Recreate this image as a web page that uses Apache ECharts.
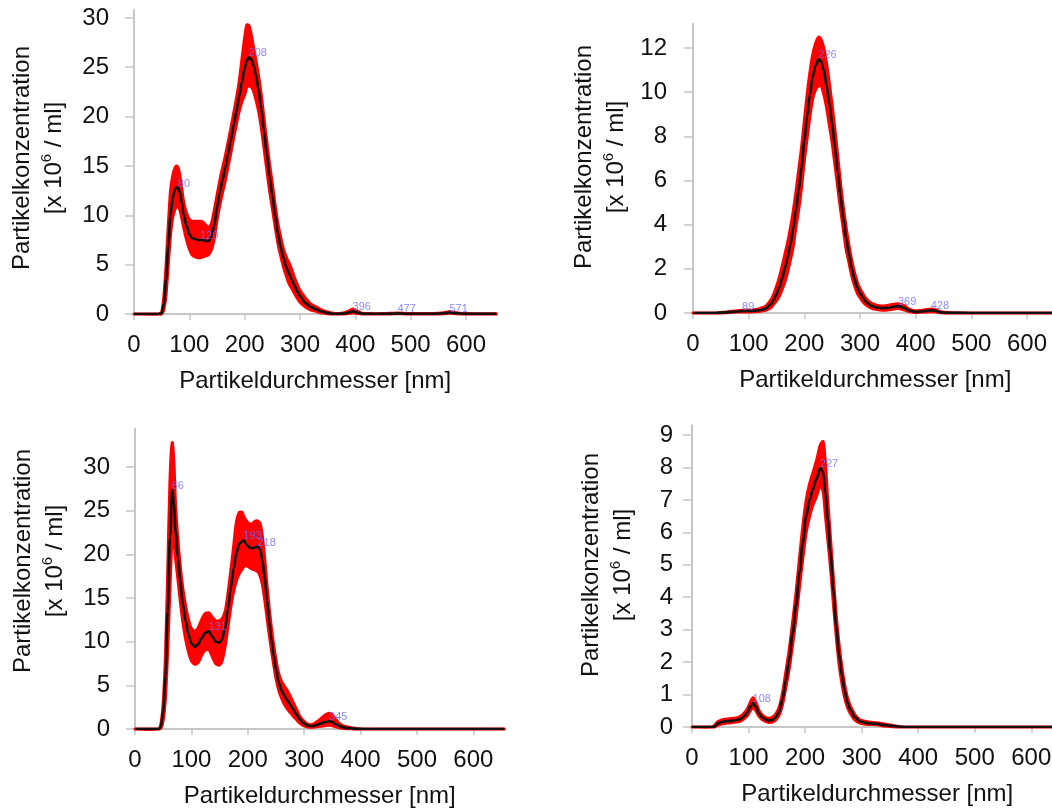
<!DOCTYPE html>
<html>
<head>
<meta charset="utf-8">
<script src="https://cdn.jsdelivr.net/npm/echarts@6/dist/echarts.min.js"></script>
<style>
  html, body { margin: 0; padding: 0; background: #fff; }
  #chart { width: 1052px; height: 810px; }
</style>
</head>
<body>
<div id="chart"></div>
<script>
// Particle size distributions (NTA): mean concentration with its spread band,
// four measurements, diameter in nm, concentration in 10^6 particles / ml.

// ---- measurement A ----
const diamA  = [0,45,50,54,58, 62,66,70,74,77, 80,83,86,90,95, 100,105,110,115,120, 125,130,135,140,145,
                150,155,160,165,170, 175,180,185,190,195, 200,204,208,212,216, 220,225,230,235,240,
                245,250,255,260,265, 270,275,280,285,290, 295,300,310,320,330, 340,350,360,370,380,
                388,396,404,412,425, 450,465,477,490,510, 540,560,571,582,600, 625,655];
const meanA  = [0,0,0.1,1.0,3.5, 7.0,10.0,11.8,12.6,12.8, 12.8,12.3,11.4,10.0,8.9, 8.1,7.7,7.6,7.5,7.5, 7.5,7.4,7.4,7.8,9.0,
                10.8,12.3,13.6,14.8,16.2, 17.6,19.1,20.5,22.0,23.5, 24.9,25.7,26.0,25.8,25.2, 24.3,22.8,20.8,18.5,16.2,
                14.0,12.0,10.0,8.2,6.8, 5.7,4.8,4.1,3.5,2.9, 2.3,1.8,1.1,0.7,0.45, 0.25,0.1,0.03,0.02,0.05,
                0.15,0.27,0.15,0.04,0.02, 0.02,0.04,0.06,0.03,0.02, 0.03,0.08,0.15,0.08,0.02, 0.01,0.01];
const upperA = [0,0,0.2,1.8,5.0, 9.0,12.5,14.0,14.8,15.0, 14.8,14.0,12.8,11.3,10.2, 9.6,9.4,9.4,9.4,9.4, 9.3,9.0,8.8,9.2,10.5,
                12.0,13.5,14.8,16.0,17.4, 18.8,20.3,21.8,23.5,25.8, 28.0,29.3,29.2,28.3,27.0, 25.8,24.2,22.2,19.8,17.5,
                15.2,13.2,11.1,9.2,7.8, 6.6,5.8,5.2,4.5,3.7, 3.0,2.4,1.6,1.0,0.7, 0.4,0.2,0.08,0.05,0.12,
                0.3,0.5,0.3,0.08,0.04, 0.04,0.07,0.1,0.06,0.04, 0.06,0.14,0.25,0.14,0.04, 0.02,0.02];
const lowerA = [0,0,0,0.5,2.0, 5.0,8.0,9.8,10.6,10.9, 10.9,10.5,9.8,8.7,7.5, 6.6,6.0,5.8,5.7,5.7, 5.8,5.9,6.0,6.5,7.6,
                9.5,11.0,12.3,13.5,14.9, 16.3,17.8,19.2,20.5,21.5, 22.2,23.0,23.1,23.0,22.6, 21.8,20.6,18.9,16.8,14.6,
                12.5,10.7,8.9,7.2,5.9, 4.8,3.9,3.1,2.6,2.1, 1.6,1.2,0.7,0.4,0.25, 0.1,0.03,0,0,0.01,
                0.05,0.1,0.05,0.01,0, 0,0.01,0.02,0.01,0, 0,0.03,0.07,0.03,0, 0,0];
const peaksA = [80, 120, 208, 396, 477, 571];
const yTicksA = [0, 5, 10, 15, 20, 25, 30];

// ---- measurement B ----
const diamB  = [0,40,60,80,89, 100,110,120,130,140, 145,150,155,160,165, 170,175,180,185,190,
                195,200,205,210,215, 220,226,230,235,240, 245,250,255,260,265, 270,275,280,285,290,
                295,300,305,310,320, 330,340,350,360,369, 380,390,400,410,420, 428,436,445,460,500, 560,655];
const meanB  = [0,0,0.03,0.07,0.09, 0.09,0.1,0.13,0.2,0.4, 0.6,0.85,1.15,1.55,2.0, 2.5,3.1,3.8,4.7,5.6,
                6.6,7.8,8.9,9.9,10.7, 11.2,11.5,11.4,11.0,10.3, 9.5,8.6,7.5,6.4,5.3, 4.3,3.4,2.7,2.05,1.55,
                1.15,0.9,0.7,0.52,0.33, 0.25,0.22,0.23,0.28,0.31, 0.22,0.1,0.05,0.07,0.1, 0.12,0.1,0.03,0.01,0, 0,0];
const upperB = [0,0,0.05,0.1,0.13, 0.13,0.15,0.2,0.3,0.6, 0.85,1.2,1.6,2.1,2.65, 3.2,3.85,4.6,5.5,6.5,
                7.5,8.7,9.9,10.9,11.7, 12.2,12.5,12.4,12.0,11.3, 10.4,9.4,8.3,7.1,5.9, 4.8,3.9,3.1,2.4,1.85,
                1.4,1.1,0.88,0.68,0.45, 0.35,0.32,0.34,0.4,0.42, 0.32,0.16,0.09,0.12,0.16, 0.18,0.15,0.06,0.02,0, 0,0];
const lowerB = [0,0,0.01,0.04,0.05, 0.05,0.06,0.08,0.12,0.25, 0.4,0.55,0.75,1.05,1.4, 1.85,2.4,3.0,3.9,4.7,
                5.7,6.9,7.9,8.9,9.7, 10.1,10.3,10.3,9.9,9.3, 8.5,7.7,6.7,5.7,4.7, 3.8,2.9,2.3,1.7,1.25,
                0.9,0.7,0.52,0.38,0.22, 0.16,0.13,0.14,0.18,0.2, 0.13,0.05,0.02,0.03,0.05, 0.06,0.05,0.01,0,0, 0,0];
const peaksB = [89, 226, 369, 428];
const yTicksB = [0, 2, 4, 6, 8, 10, 12];

// ---- measurement C ----
const diamC  = [0,42,46,50,54, 58,62,66,69,72, 76,80,85,90,95, 100,106,112,118,124, 131,137,143,149,154,
                160,165,170,175,180, 185,190,193,198,203, 208,213,218,222,226, 230,234,238,242,246,
                250,255,260,265,270, 275,280,286,292,298, 304,310,316,322,328, 334,340,345,350,356,
                362,368,375,385,395, 405,430,500,655];
const meanC  = [0,0,0.3,2.0,6.0, 13.5,22.0,27.4,25.8,22.6, 19.7,17.0,14.3,12.3,10.8, 9.8,9.4,9.7,10.4,11.0, 11.2,10.6,10.0,9.9,10.2,
                11.7,13.8,16.2,18.4,20.2, 21.2,21.5,21.6,21.1,20.8, 20.7,20.8,20.9,20.5,19.3, 17.3,14.8,12.3,10.2,8.4,
                6.8,5.3,4.4,3.8,3.3, 2.8,2.3,1.7,1.1,0.7, 0.45,0.35,0.35,0.45,0.6, 0.75,0.85,0.88,0.8,0.55,
                0.35,0.22,0.12,0.06,0.02, 0,0,0,0];
const upperC = [0,0,0.6,3.0,8.5, 18.0,28.5,32.8,30.5,25.5, 21.8,18.8,16.0,14.0,12.5, 11.5,11.2,11.6,12.5,13.2, 13.3,12.8,12.4,12.4,12.6,
                13.5,15.6,18.2,21.0,23.8, 24.8,24.8,24.3,23.8,23.5, 23.5,23.8,23.8,23.5,22.0, 19.5,16.5,13.8,11.5,9.6,
                7.9,6.3,5.4,4.9,4.4, 3.8,3.1,2.3,1.5,1.0, 0.65,0.5,0.55,0.8,1.1, 1.45,1.7,1.8,1.6,1.1,
                0.65,0.4,0.25,0.12,0.04, 0,0,0,0];
const lowerC = [0,0,0.1,1.0,3.5, 9.0,16.0,22.0,21.5,19.5, 17.2,14.8,12.2,10.2,8.8, 7.8,7.4,7.6,8.4,9.0, 9.1,8.3,7.5,7.3,7.7,
                9.5,11.8,14.0,15.8,17.0, 17.8,18.3,18.6,18.7,18.5, 18.3,18.2,18.0,17.5,16.5, 14.8,12.8,10.8,9.0,7.3,
                5.8,4.4,3.5,2.8,2.3, 1.9,1.5,1.1,0.7,0.4, 0.25,0.2,0.2,0.25,0.3, 0.35,0.4,0.42,0.38,0.25,
                0.15,0.08,0.04,0.02,0, 0,0,0,0];
const peaksC = [66, 131, 193, 218, 345];
const yTicksC = [0, 5, 10, 15, 20, 25, 30];

// ---- measurement D ----
const diamD  = [0,35,40,45,50, 56,62,70,78,86, 92,98,103,108,113, 118,124,130,136,142, 148,154,160,166,172,
                178,184,190,196,202, 208,214,220,227,232, 236,240,245,250,255, 260,265,270,275,280,
                288,297,310,327,340, 355,375,420,655];
const meanD  = [0,0,0.02,0.1,0.14, 0.17,0.18,0.19,0.21,0.25, 0.33,0.45,0.62,0.74,0.62, 0.43,0.3,0.23,0.2,0.22, 0.3,0.47,0.85,1.45,2.1,
                2.9,3.75,4.75,5.7,6.5, 7.0,7.35,7.65,7.98,7.85, 7.2,6.4,5.36,4.2,3.1, 2.25,1.6,1.1,0.75,0.53,
                0.3,0.17,0.12,0.1,0.06, 0.03,0,0,0];
const upperD = [0,0,0.05,0.16,0.2, 0.23,0.25,0.26,0.28,0.33, 0.42,0.56,0.76,0.9,0.76, 0.53,0.38,0.3,0.27,0.3, 0.4,0.6,1.05,1.7,2.4,
                3.25,4.15,5.2,6.2,7.0, 7.5,7.85,8.2,8.7,8.8, 8.1,7.0,5.8,4.6,3.45, 2.55,1.85,1.3,0.9,0.65,
                0.38,0.22,0.16,0.13,0.09, 0.05,0,0,0];
const lowerD = [0,0,0,0.05,0.08, 0.11,0.12,0.13,0.15,0.18, 0.25,0.35,0.5,0.6,0.5, 0.34,0.23,0.17,0.14,0.15, 0.22,0.36,0.68,1.22,1.8,
                2.55,3.35,4.3,5.2,6.0, 6.5,6.85,7.1,7.45,7.25, 6.5,5.8,4.9,3.8,2.8, 1.95,1.35,0.9,0.6,0.42,
                0.22,0.12,0.08,0.07,0.03, 0.01,0,0,0];
const peaksD = [108, 227];
const yTicksD = [0, 1, 2, 3, 4, 5, 6, 7, 8, 9];

const xTicks = [0, 100, 200, 300, 400, 500, 600];
const xTitle = 'Partikeldurchmesser [nm]';
const yTitle = 'Partikelkonzentration';
const yUnitPre = '[x 10';
const yUnitExp = '6';
const yUnitPost = ' / ml]';

const FONT = "'Liberation Sans', Arial, Helvetica, sans-serif";
const AXIS_GREY = '#c6c6c6';
const BAND_RED = '#ff0000';

const panels = [
  { x: diamA, mean: meanA, hi: upperA, lo: lowerA, peaks: peaksA, yTicks: yTicksA, yMax: 30.8,
    grid: { left: 134, top: 10, width: 362.4, height: 304 }, yMargin: 25, nameAt: [38, 158] },
  { x: diamB, mean: meanB, hi: upperB, lo: lowerB, peaks: peaksB, yTicks: yTicksB, yMax: 13.1,
    grid: { left: 693, top: 23.8, width: 364.6, height: 289.2 }, yMargin: 26, nameAt: [600, 157] },
  { x: diamC, mean: meanC, hi: upperC, lo: lowerC, peaks: peaksC, yTicks: yTicksC, yMax: 34.4,
    grid: { left: 135, top: 428.6, width: 369.4, height: 300.4 }, yMargin: 25, nameAt: [39, 561] },
  { x: diamD, mean: meanD, hi: upperD, lo: lowerD, peaks: peaksD, yTicks: yTicksD, yMax: 9.3,
    grid: { left: 692, top: 425.3, width: 370.4, height: 301.7 }, yMargin: 19, nameAt: [607, 565] }
];

const pairs = (xs, ys) => xs.map((x, i) => [x, ys[i]]);
const peakMarks = (xs, ys, peaks) => peaks.map(p => [p, ys[xs.indexOf(p)]]);

const grids = [], xAxes = [], yAxes = [], series = [], graphics = [];

panels.forEach((p, i) => {
  grids.push(Object.assign({ containLabel: false, outerBoundsMode: 'none' }, p.grid));

  xAxes.push({
    type: 'value', gridIndex: i, min: 0, max: 655,
    name: xTitle, nameLocation: 'middle', nameGap: 55,
    nameTextStyle: { fontSize: 24, color: '#111', fontFamily: FONT },
    axisLine: { show: true, onZero: false, lineStyle: { color: AXIS_GREY, width: 2 } },
    axisTick: { show: true, length: 6, customValues: xTicks, lineStyle: { color: AXIS_GREY, width: 1.5 } },
    axisLabel: { customValues: xTicks, fontSize: 24, color: '#111', fontFamily: FONT, margin: 19 },
    splitLine: { show: false }
  });

  yAxes.push({
    type: 'value', gridIndex: i, min: 0, max: p.yMax,
    axisLine: { show: true, lineStyle: { color: AXIS_GREY, width: 2 } },
    axisTick: { show: true, length: 9, customValues: p.yTicks, lineStyle: { color: AXIS_GREY, width: 1.5 } },
    axisLabel: { customValues: p.yTicks, fontSize: 24, color: '#111', fontFamily: FONT, margin: p.yMargin },
    splitLine: { show: false }
  });

  // spread band: upper edge left to right, lower edge back, as one filled shape
  series.push({
    type: 'custom', coordinateSystem: 'cartesian2d', xAxisIndex: i, yAxisIndex: i,
    data: p.x.map((x, k) => [x, p.lo[k], p.hi[k]]),
    encode: { x: 0, y: [1, 2] },
    silent: true, z: 2,
    renderItem: (params, api) => {
      if (params.dataIndex !== 0) return null;
      const top = p.x.map((x, k) => api.coord([x, p.hi[k]]));
      const bottom = p.x.map((x, k) => api.coord([x, p.lo[k]])).reverse();
      return {
        type: 'polygon',
        shape: { points: top.concat(bottom), smooth: 0.25 },
        style: { fill: BAND_RED, stroke: BAND_RED, lineWidth: 3, lineJoin: 'round' }
      };
    }
  });
  // mean distribution
  series.push({
    type: 'line', xAxisIndex: i, yAxisIndex: i,
    data: pairs(p.x, p.mean), smooth: 0.35, smoothMonotone: 'x',
    symbol: 'none', lineStyle: { color: '#111111', width: 2.6 }, z: 4, silent: true
  });
  // peak diameters
  series.push({
    type: 'scatter', xAxisIndex: i, yAxisIndex: i,
    data: peakMarks(p.x, p.mean, p.peaks), symbolSize: 1,
    itemStyle: { color: 'transparent' }, z: 5, silent: true,
    label: {
      show: true, position: [0, 0], align: 'left', verticalAlign: 'bottom', offset: [0, 2],
      formatter: d => String(d.value[0]), fontSize: 11, color: '#6c6cff', fontFamily: FONT
    }
  });

  graphics.push({
    type: 'text', x: p.nameAt[0], y: p.nameAt[1], rotation: Math.PI / 2,
    style: {
      text: '{n|' + yTitle + '}\n{n|' + yUnitPre + '}{s|' + yUnitExp + '}{n|' + yUnitPost + '}',
      align: 'center', verticalAlign: 'middle',
      rich: {
        n: { fontSize: 24, fontFamily: FONT, fill: '#111', lineHeight: 32 },
        s: { fontSize: 15, fontFamily: FONT, fill: '#111', lineHeight: 32, padding: [0, 0, 14, 0] }
      }
    }
  });
});

const chart = echarts.init(document.getElementById('chart'), null, { renderer: 'canvas' });
chart.setOption({
  animation: false,
  backgroundColor: '#ffffff',
  grid: grids,
  xAxis: xAxes,
  yAxis: yAxes,
  series: series,
  graphic: graphics
});
</script>
</body>
</html>
